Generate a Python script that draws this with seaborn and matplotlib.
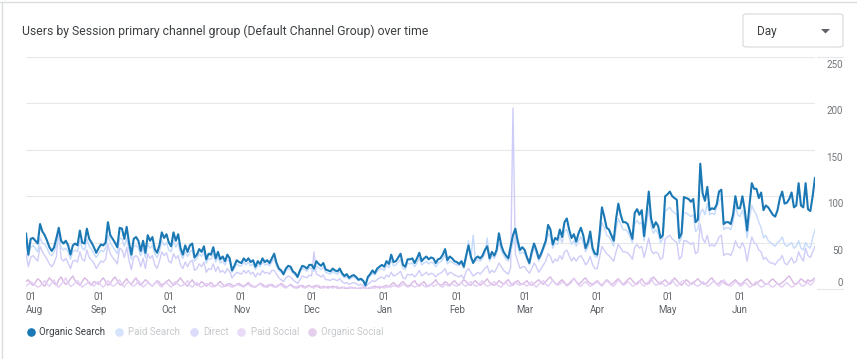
import pandas as pd
import seaborn as sns
import matplotlib.pyplot as plt
from matplotlib.lines import Line2D
from matplotlib.patches import FancyBboxPatch, Polygon

# daily users, 2023-08-01 .. 2024-07-03 (one row per month)
organic_search = [
    60, 37, 54, 55, 52, 49, 70, 62, 58, 52, 45, 41, 45, 55, 66, 52, 49, 52, 47, 37, 47, 49, 47, 63, 50, 49, 65, 54, 50, 45, 39,
    44, 48, 47, 50, 72, 58, 54, 50, 45, 66, 65, 54, 67, 50, 37, 54, 56, 52, 41, 52, 39, 58, 52, 56, 43, 39, 47, 61, 55, 59,
    50, 46, 61, 52, 59, 44, 37, 47, 40, 47, 49, 34, 37, 43, 40, 46, 32, 38, 37, 45, 33, 40, 32, 35, 30, 37, 33, 20, 25, 31, 29,
    28, 33, 30, 33, 29, 31, 24, 30, 27, 33, 29, 31, 28, 33, 38, 28, 22, 20, 16, 22, 25, 24, 19, 17, 13, 20, 25, 24, 22, 26,
    26, 22, 30, 27, 25, 28, 21, 20, 19, 22, 20, 19, 22, 17, 14, 16, 12, 14, 15, 13, 10, 11, 9, 4, 13, 16, 20, 17, 22, 24, 26,
    24, 30, 27, 37, 29, 30, 34, 38, 26, 24, 32, 32, 33, 28, 33, 39, 30, 33, 35, 32, 34, 33, 28, 32, 33, 37, 43, 31, 35, 33, 30,
    29, 27, 30, 24, 36, 47, 35, 28, 33, 35, 33, 36, 42, 46, 33, 40, 36, 42, 60, 47, 40, 36, 33, 46, 58, 65, 52, 42, 45,
    42, 34, 28, 40, 49, 42, 33, 38, 45, 52, 69, 64, 48, 55, 53, 64, 56, 72, 76, 64, 55, 59, 51, 60, 66, 58, 44, 50, 62, 44, 38,
    37, 60, 88, 78, 66, 64, 58, 52, 75, 92, 80, 72, 72, 70, 62, 54, 82, 86, 80, 85, 57, 80, 105, 76, 66, 72, 68, 55, 58, 100,
    102, 105, 100, 98, 96, 55, 60, 99, 98, 97, 94, 97, 72, 75, 135, 103, 95, 110, 85, 87, 86, 91, 105, 107, 70, 72, 72, 70, 80, 100, 87,
    87, 100, 85, 63, 90, 114, 108, 108, 98, 104, 85, 90, 88, 84, 80, 78, 85, 98, 105, 92, 93, 97, 104, 88, 90, 114, 90, 88, 114, 86,
    84, 100, 120,
]
paid_search = [
    48, 35, 45, 47, 44, 40, 55, 50, 48, 44, 38, 36, 40, 47, 55, 45, 42, 44, 40, 32, 40, 42, 40, 52, 44, 42, 54, 46, 43, 38, 34,
    38, 42, 40, 44, 58, 50, 46, 42, 38, 55, 54, 46, 55, 42, 32, 46, 47, 44, 36, 44, 34, 48, 44, 47, 38, 34, 40, 52, 47, 50,
    42, 40, 52, 45, 50, 38, 33, 40, 35, 40, 42, 30, 33, 38, 35, 40, 28, 33, 32, 38, 29, 35, 28, 30, 26, 32, 29, 18, 22, 27, 25,
    25, 29, 26, 29, 25, 27, 21, 26, 24, 29, 26, 27, 25, 29, 33, 25, 20, 18, 15, 20, 22, 21, 17, 15, 12, 18, 22, 21, 19, 23,
    22, 19, 25, 23, 21, 24, 18, 17, 16, 19, 17, 16, 19, 15, 12, 14, 10, 12, 13, 11, 9, 10, 8, 5, 11, 14, 17, 15, 19, 21, 22,
    20, 26, 23, 31, 25, 26, 29, 32, 22, 21, 28, 27, 28, 24, 28, 33, 26, 28, 30, 27, 29, 28, 24, 28, 29, 32, 37, 27, 30, 29, 27,
    26, 25, 28, 22, 33, 52, 32, 58, 30, 32, 30, 33, 38, 55, 30, 36, 33, 38, 50, 42, 36, 32, 30, 40, 50, 55, 46, 38, 40,
    38, 32, 26, 36, 44, 38, 30, 35, 42, 48, 60, 56, 44, 50, 48, 56, 50, 62, 64, 56, 48, 52, 46, 52, 56, 50, 40, 45, 54, 40, 35,
    34, 52, 72, 66, 58, 56, 52, 46, 64, 76, 70, 64, 64, 62, 56, 50, 70, 74, 70, 72, 52, 70, 86, 68, 60, 64, 60, 50, 54, 84,
    86, 88, 84, 82, 80, 50, 55, 82, 82, 80, 78, 80, 62, 65, 82, 86, 80, 92, 80, 82, 80, 88, 95, 98, 64, 66, 66, 64, 72, 90, 80,
    78, 85, 76, 55, 76, 90, 84, 80, 72, 66, 55, 58, 52, 50, 48, 46, 50, 52, 56, 48, 46, 48, 50, 44, 46, 52, 44, 42, 50, 46,
    44, 55, 64,
]
direct = [
    38, 24, 34, 36, 33, 30, 46, 40, 36, 32, 27, 24, 28, 35, 64, 33, 30, 33, 28, 22, 30, 31, 29, 40, 32, 30, 42, 34, 31, 28, 22,
    26, 30, 29, 32, 48, 38, 34, 31, 27, 44, 42, 34, 45, 31, 21, 34, 36, 33, 24, 33, 22, 38, 33, 36, 26, 22, 30, 40, 36, 39,
    30, 28, 38, 33, 36, 26, 22, 29, 24, 29, 31, 20, 22, 27, 24, 29, 18, 22, 21, 27, 19, 24, 18, 20, 17, 22, 19, 12, 15, 18, 17,
    16, 20, 17, 20, 16, 18, 13, 17, 15, 20, 17, 18, 16, 20, 20, 16, 12, 10, 8, 12, 14, 13, 10, 8, 6, 10, 14, 13, 12, 15,
    14, 40, 16, 15, 13, 15, 10, 10, 9, 11, 10, 9, 11, 8, 6, 7, 5, 6, 7, 6, 4, 5, 4, 2, 5, 7, 9, 8, 10, 12, 13,
    11, 15, 13, 18, 14, 15, 17, 19, 12, 11, 16, 15, 16, 13, 16, 20, 14, 16, 18, 15, 17, 16, 13, 16, 17, 19, 22, 15, 18, 17, 15,
    14, 13, 15, 11, 19, 22, 18, 14, 16, 18, 16, 19, 22, 25, 17, 20, 18, 22, 28, 24, 20, 18, 16, 23, 195, 38, 30, 22, 24,
    24, 20, 17, 22, 28, 24, 18, 22, 26, 30, 38, 35, 28, 32, 30, 36, 32, 40, 42, 36, 30, 34, 30, 34, 36, 32, 26, 29, 35, 26, 22,
    22, 34, 46, 42, 38, 36, 33, 30, 40, 48, 44, 40, 40, 39, 36, 32, 45, 48, 44, 46, 34, 44, 55, 42, 38, 40, 38, 32, 34, 54,
    56, 58, 54, 52, 50, 32, 35, 52, 52, 50, 48, 50, 38, 40, 70, 54, 50, 58, 46, 48, 46, 50, 56, 58, 36, 38, 38, 36, 42, 52, 46,
    44, 50, 44, 30, 44, 56, 50, 48, 42, 40, 32, 34, 30, 28, 28, 26, 30, 32, 36, 28, 26, 30, 34, 28, 30, 40, 34, 30, 44, 36,
    34, 40, 46,
]
paid_social = [
    3, 5, 8, 6, 4, 2, 3, 6, 9, 5, 3, 7, 10, 4, 2, 5, 8, 12, 6, 3, 4, 7, 9, 5, 2, 4, 6, 8, 5, 3, 6,
    8, 4, 2, 5, 9, 6, 3, 4, 7, 10, 5, 2, 6, 8, 4, 3, 5, 9, 6, 2, 4, 7, 5, 3, 6, 8, 4, 2, 5, 7,
    4, 2, 6, 8, 5, 3, 4, 6, 9, 4, 2, 5, 7, 3, 2, 4, 6, 5, 3, 2, 4, 5, 3, 2, 4, 6, 3, 2, 3, 5, 4,
    3, 2, 4, 5, 3, 2, 3, 4, 6, 3, 2, 4, 5, 3, 2, 3, 5, 4, 2, 1, 3, 4, 2, 1, 3, 4, 2, 1, 2, 3,
    2, 1, 3, 4, 2, 1, 2, 3, 2, 1, 2, 3, 1, 1, 2, 1, 2, 1, 1, 0, 1, 2, 1, 0, 1, 2, 1, 1, 2, 3, 2,
    1, 2, 3, 2, 4, 3, 2, 3, 5, 4, 2, 3, 4, 2, 3, 5, 6, 3, 2, 4, 5, 3, 4, 6, 3, 2, 5, 4, 3, 6, 4,
    3, 5, 7, 4, 3, 6, 8, 5, 3, 4, 7, 9, 5, 3, 4, 6, 8, 5, 3, 2, 5, 7, 4, 3, 6, 8, 5, 4, 6,
    5, 3, 6, 8, 4, 2, 5, 7, 9, 5, 3, 6, 10, 6, 4, 5, 8, 6, 3, 5, 7, 12, 8, 4, 3, 6, 8, 5, 3, 4, 6,
    8, 5, 3, 6, 9, 7, 4, 3, 6, 10, 7, 4, 5, 8, 6, 3, 4, 7, 9, 5, 3, 6, 8, 12, 7, 4, 5, 8, 6, 3,
    4, 7, 10, 6, 3, 5, 8, 9, 5, 3, 6, 8, 4, 3, 5, 8, 6, 3, 4, 7, 9, 5, 3, 6, 10, 7, 4, 3, 5, 8, 6,
    3, 4, 7, 5, 2, 3, 6, 8, 4, 2, 3, 5, 6, 3, 2, 4, 6, 3, 2, 5, 7, 4, 2, 3, 6, 8, 4, 3, 5, 7,
    4, 6, 12,
]
organic_social = [
    8, 10, 6, 4, 7, 11, 9, 5, 3, 8, 12, 9, 6, 4, 10, 13, 8, 5, 7, 11, 14, 9, 6, 4, 8, 12, 10, 6, 4, 8, 7,
    5, 9, 12, 8, 4, 6, 10, 13, 9, 5, 4, 8, 11, 7, 5, 9, 12, 6, 4, 7, 10, 8, 5, 3, 6, 9, 7, 4, 6, 8,
    10, 7, 4, 6, 9, 12, 8, 5, 3, 7, 10, 6, 4, 5, 8, 6, 3, 5, 7, 4, 3, 6, 8, 5, 3, 4, 6, 4, 3, 5, 6,
    4, 3, 5, 7, 4, 3, 2, 4, 6, 5, 3, 2, 4, 5, 3, 2, 4, 6, 4, 2, 3, 5, 3, 2, 1, 3, 4, 2, 3, 4,
    2, 3, 4, 2, 1, 3, 2, 1, 2, 3, 2, 1, 1, 2, 1, 0, 1, 2, 1, 1, 0, 1, 2, 1, 0, 1, 2, 3, 2, 1, 2,
    3, 4, 2, 5, 7, 4, 3, 6, 8, 5, 3, 4, 7, 9, 5, 3, 6, 8, 4, 3, 5, 7, 10, 6, 4, 5, 8, 6, 4, 7, 9,
    6, 4, 7, 10, 8, 5, 4, 7, 9, 6, 4, 6, 8, 11, 7, 5, 4, 6, 9, 7, 5, 8, 10, 6, 4, 7, 9, 6, 5,
    7, 9, 5, 4, 6, 8, 10, 7, 5, 8, 11, 13, 9, 6, 5, 8, 10, 7, 4, 6, 9, 11, 8, 5, 7, 10, 12, 8, 6, 5, 7,
    9, 6, 4, 7, 10, 8, 5, 6, 9, 11, 8, 5, 7, 10, 12, 9, 6, 5, 8, 11, 7, 5, 6, 9, 13, 10, 7, 5, 8, 10,
    7, 5, 8, 12, 9, 6, 4, 7, 10, 8, 5, 6, 9, 11, 8, 6, 5, 7, 10, 12, 8, 5, 6, 9, 7, 5, 4, 6, 8, 10, 7,
    5, 6, 9, 11, 8, 5, 4, 6, 8, 10, 7, 5, 6, 9, 11, 8, 6, 5, 7, 9, 12, 14, 10, 6, 5, 8, 11, 9, 7, 10,
    8, 10, 12,
]

channels = ["Organic Search", "Paid Search", "Direct", "Paid Social", "Organic Social"]
series = [organic_search, paid_search, direct, paid_social, organic_social]
y_ticks = [0, 50, 100, 150, 200, 250]
month_starts = pd.date_range("2023-08-01", "2024-06-01", freq="MS")

line_colors = {
    "Organic Search": "#1a78b4",
    "Paid Search": "#c6dafb",
    "Direct": "#cfcdf8",
    "Paid Social": "#e3cff5",
    "Organic Social": "#d9b8e4",
}
dot_colors = {
    "Organic Search": "#1a78b4",
    "Paid Search": "#d5e4fc",
    "Direct": "#dcdbfa",
    "Paid Social": "#e9dbf7",
    "Organic Social": "#e6cfec",
}

frames = []
for name, vals in zip(channels, series):
    frames.append(pd.DataFrame({
        "date": pd.date_range("2023-08-01", periods=len(vals), freq="D"),
        "users": vals,
        "channel": name,
    }))
df = pd.concat(frames, ignore_index=True)

sns.set_style("white")
plt.rcParams["font.family"] = ["Roboto", "DejaVu Sans"]

W, H = 857, 359


def fx(x):
    return x / W


def fy(y):
    return 1 - y / H


fig = plt.figure(figsize=(W / 100, H / 100), dpi=100)
ax = fig.add_axes([fx(26), fy(289), (815 - 26) / W, (289 - 57) / H])

# faded channels first, organic search on top
for name in channels[::-1]:
    sub = df[df["channel"] == name]
    lw = 1.5 if name == "Organic Search" else 1.0
    sns.lineplot(data=sub, x="date", y="users", color=line_colors[name],
                 linewidth=lw, ax=ax, legend=False)

ax.set_xlim(df["date"].min(), df["date"].max())
ax.set_ylim(0, 250)
ax.set_yticks(y_ticks)
ax.yaxis.grid(True, color="#e6e7e9", linewidth=0.8)
ax.tick_params(axis="y", length=0, labelleft=False)
for s in ax.spines.values():
    s.set_visible(False)
ax.set_xlabel("")
ax.set_ylabel("")

ax.set_xticks(month_starts)
ax.set_xticklabels([d.strftime("01\n%b") for d in month_starts])
ax.tick_params(axis="x", length=0, pad=2, labelsize=7, labelcolor="#5f6368")
for lab in ax.get_xticklabels():
    lab.set_linespacing(1.35)
ax.get_xticklabels()[0].set_horizontalalignment("left")

# y labels sit on the right, just below their gridline
ytrans = ax.get_yaxis_transform()
for v in y_ticks:
    yy = 6.5 if v == 0 else v - 8.6
    ax.text(1.0355, yy, str(v), transform=ytrans, ha="right", va="center",
            fontsize=7, color="#70757a")

fig.add_artist(Line2D([fx(817), fx(843)], [fy(289)] * 2, color="#e6e7e9", lw=0.8))
fig.add_artist(Line2D([fx(817), fx(843)], [fy(57)] * 2, color="#e6e7e9", lw=0.8))

# card edges
fig.add_artist(Line2D([0, 1], [fy(2)] * 2, color="#dadce0", lw=1))
fig.add_artist(Line2D([fx(1.5)] * 2, [0, fy(2)], color="#dadce0", lw=1))

fig.text(fx(22), fy(31), "Users by Session primary channel group (Default Channel Group) over time",
         fontsize=8.8, color="#3c4043", va="center", ha="left")

# "Day" dropdown
fig.add_artist(FancyBboxPatch((fx(743), fy(47)), 100 / W, 33 / H,
                              boxstyle="round,pad=0,rounding_size=0.005",
                              transform=fig.transFigure, fc="white", ec="#dadce0", lw=0.9))
fig.text(fx(757), fy(31), "Day", fontsize=8.5, color="#3c4043", va="center", ha="left")
fig.add_artist(Polygon([[fx(821), fy(29)], [fx(830), fy(29)], [fx(825.5), fy(33.5)]],
                       closed=True, transform=fig.transFigure, fc="#5f6368", ec="none"))

# legend
legend_pos = {
    "Organic Search": (31, 39),
    "Paid Search": (119, 128),
    "Direct": (194, 203),
    "Paid Social": (241, 251),
    "Organic Social": (312, 321),
}
for name in channels:
    dx, tx = legend_pos[name]
    fig.add_artist(Line2D([fx(dx)], [fy(332)], marker="o", markersize=6.2, linestyle="none",
                          markerfacecolor=dot_colors[name], markeredgecolor="none"))
    col = "#3c4043" if name == "Organic Search" else "#c6c8cb"
    fig.text(fx(tx), fy(332), name, fontsize=7, color=col, va="center", ha="left")

fig.savefig("out.png", dpi=100, facecolor="white")
